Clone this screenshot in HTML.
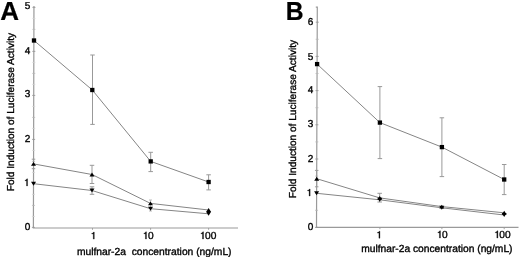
<!DOCTYPE html>
<html><head><meta charset="utf-8"><style>
html,body{margin:0;padding:0;background:#fff;width:520px;height:257px;overflow:hidden}
svg{display:block;will-change:transform}
text{text-rendering:geometricPrecision;font-family:"Liberation Sans",sans-serif;fill:#000;stroke:#000;stroke-width:0.35px}
</style></head><body>
<svg width="520" height="257" viewBox="0 0 520 257">
<path d="M33.95 6L33.40 228.0H238" stroke="#9a9a9a" stroke-width="1.2" fill="none"/>
<path d="M31.90 227.40h3" stroke="#999" stroke-width="0.9"/>
<path d="M32.01 183.40h3" stroke="#999" stroke-width="0.9"/>
<path d="M32.12 139.40h3" stroke="#999" stroke-width="0.9"/>
<path d="M32.23 95.40h3" stroke="#999" stroke-width="0.9"/>
<path d="M32.34 51.40h3" stroke="#999" stroke-width="0.9"/>
<path d="M32.45 7.40h3" stroke="#999" stroke-width="0.9"/>
<path d="M31.93 216.40h3" stroke="#d2d2d2" stroke-width="0.8"/>
<path d="M31.96 205.40h3" stroke="#b8b8b8" stroke-width="0.8"/>
<path d="M31.98 194.40h3" stroke="#d2d2d2" stroke-width="0.8"/>
<path d="M32.04 172.40h3" stroke="#d2d2d2" stroke-width="0.8"/>
<path d="M32.07 161.40h3" stroke="#b8b8b8" stroke-width="0.8"/>
<path d="M32.09 150.40h3" stroke="#d2d2d2" stroke-width="0.8"/>
<path d="M32.15 128.40h3" stroke="#d2d2d2" stroke-width="0.8"/>
<path d="M32.17 117.40h3" stroke="#b8b8b8" stroke-width="0.8"/>
<path d="M32.20 106.40h3" stroke="#d2d2d2" stroke-width="0.8"/>
<path d="M32.26 84.40h3" stroke="#d2d2d2" stroke-width="0.8"/>
<path d="M32.28 73.40h3" stroke="#b8b8b8" stroke-width="0.8"/>
<path d="M32.31 62.40h3" stroke="#d2d2d2" stroke-width="0.8"/>
<path d="M32.36 40.40h3" stroke="#d2d2d2" stroke-width="0.8"/>
<path d="M32.39 29.40h3" stroke="#b8b8b8" stroke-width="0.8"/>
<path d="M32.42 18.40h3" stroke="#d2d2d2" stroke-width="0.8"/>
<text x="24.84" y="9" font-size="10.0" text-anchor="start" font-weight="normal" >5</text>
<text x="24.84" y="54" font-size="10.0" text-anchor="start" font-weight="normal" >4</text>
<text x="24.84" y="97" font-size="10.0" text-anchor="start" font-weight="normal" >3</text>
<text x="24.84" y="142" font-size="10.0" text-anchor="start" font-weight="normal" >2</text>
<path d="M26.54 185.90L27.54 185.90L27.54 178.87L26.84 178.87L26.44 179.60L25.74 180.05L25.04 180.15L25.04 180.80L26.54 180.65Z" fill="#000" stroke="#000" stroke-width="0.3"/>
<text x="24.84" y="230" font-size="10.0" text-anchor="start" font-weight="normal" >0</text>
<path d="M92.50 228.0V229.8" stroke="#999" stroke-width="0.9"/>
<path d="M150.60 228.0V229.8" stroke="#999" stroke-width="0.9"/>
<path d="M208.60 228.0V229.8" stroke="#999" stroke-width="0.9"/>
<path d="M93.27 239.10L94.27 239.10L94.27 232.07L93.57 232.07L93.17 232.80L92.47 233.25L91.77 233.35L91.77 234.00L93.27 233.85Z" fill="#000" stroke="#000" stroke-width="0.3"/>
<path d="M145.44 239.00L146.46 239.00L146.46 231.83L145.74 231.83L145.34 232.57L144.62 233.03L143.91 233.13L143.91 233.80L145.44 233.65Z" fill="#000" stroke="#000" stroke-width="0.3"/>
<text x="147.95" y="239" font-size="10.2" text-anchor="start" font-weight="normal" >0</text>
<path d="M202.50 239.00L203.52 239.00L203.52 231.83L202.81 231.83L202.40 232.57L201.69 233.03L200.97 233.13L200.97 233.80L202.50 233.65Z" fill="#000" stroke="#000" stroke-width="0.3"/>
<text x="205.01" y="239" font-size="10.2" text-anchor="start" font-weight="normal" >00</text>
<text x="76.9" y="254.6" font-size="10.28" text-anchor="start" font-weight="normal" >mulfnar-2a&#160; concentration (ng/mL)</text>
<text transform="translate(14,191.2) rotate(-90)" font-size="10.1">Fold Induction of Luciferase Activity</text>
<text x="0.2" y="19.8" font-size="26" font-weight="bold" style="stroke-width:0.2px">A</text>
<path d="M34.00 40.50L92.30 90.00L150.70 161.40L208.60 182.00" stroke="#858585" stroke-width="1.0" fill="none"/>
<path d="M33.50 163.90L92.00 174.50L150.50 203.40L208.60 210.00" stroke="#858585" stroke-width="1.0" fill="none"/>
<path d="M33.50 183.70L92.00 190.50L150.50 208.70L208.60 213.80" stroke="#858585" stroke-width="1.0" fill="none"/>
<path d="M92.50 55.00V124.40M90.25 55.00H94.75M90.25 124.40H94.75" stroke="#999" stroke-width="1" fill="none"/>
<path d="M150.70 152.30V171.60M148.45 152.30H152.95M148.45 171.60H152.95" stroke="#999" stroke-width="1" fill="none"/>
<path d="M208.60 174.80V189.90M206.35 174.80H210.85M206.35 189.90H210.85" stroke="#999" stroke-width="1" fill="none"/>
<path d="M92.00 165.30V183.50M89.75 165.30H94.25M89.75 183.50H94.25" stroke="#999" stroke-width="1" fill="none"/>
<path d="M33.50 159.20V168.70M31.75 159.20H35.25M31.75 168.70H35.25" stroke="#999" stroke-width="1" fill="none"/>
<path d="M92.00 186.80V194.30M89.75 186.80H94.25M89.75 194.30H94.25" stroke="#999" stroke-width="1" fill="none"/>
<path d="M150.50 200.00V211.00M149.00 200.00H152.00M149.00 211.00H152.00" stroke="#bbb" stroke-width="1" fill="none"/>
<rect x="31.85" y="38.35" width="4.3" height="4.3" fill="#000"/>
<rect x="90.15" y="87.85" width="4.3" height="4.3" fill="#000"/>
<rect x="148.55" y="159.25" width="4.3" height="4.3" fill="#000"/>
<rect x="206.45" y="179.85" width="4.3" height="4.3" fill="#000"/>
<path d="M31.00 165.85L36.00 165.85L33.50 161.95Z" fill="#000"/>
<path d="M89.50 176.45L94.50 176.45L92.00 172.55Z" fill="#000"/>
<path d="M148.00 205.35L153.00 205.35L150.50 201.45Z" fill="#000"/>
<path d="M206.10 211.95L211.10 211.95L208.60 208.05Z" fill="#000"/>
<path d="M31.00 181.75L36.00 181.75L33.50 185.65Z" fill="#000"/>
<path d="M89.50 188.55L94.50 188.55L92.00 192.45Z" fill="#000"/>
<path d="M148.00 206.75L153.00 206.75L150.50 210.65Z" fill="#000"/>
<path d="M206.10 211.85L211.10 211.85L208.60 215.75Z" fill="#000"/>
<path d="M315.80 7.2H317.30L316.50 227.4H518.5" stroke="#9a9a9a" stroke-width="1.2" fill="none"/>
<path d="M315.00 227.40h3" stroke="#999" stroke-width="0.9"/>
<path d="M315.12 193.20h3" stroke="#999" stroke-width="0.9"/>
<path d="M315.25 159.00h3" stroke="#999" stroke-width="0.9"/>
<path d="M315.37 124.80h3" stroke="#999" stroke-width="0.9"/>
<path d="M315.50 90.60h3" stroke="#999" stroke-width="0.9"/>
<path d="M315.62 56.40h3" stroke="#999" stroke-width="0.9"/>
<path d="M315.75 22.20h3" stroke="#999" stroke-width="0.9"/>
<path d="M315.06 210.30h3" stroke="#b8b8b8" stroke-width="0.8"/>
<path d="M315.19 176.10h3" stroke="#b8b8b8" stroke-width="0.8"/>
<path d="M315.31 141.90h3" stroke="#b8b8b8" stroke-width="0.8"/>
<path d="M315.43 107.70h3" stroke="#b8b8b8" stroke-width="0.8"/>
<path d="M315.56 73.50h3" stroke="#b8b8b8" stroke-width="0.8"/>
<path d="M315.68 39.30h3" stroke="#b8b8b8" stroke-width="0.8"/>
<text x="307.74" y="25" font-size="10.0" text-anchor="start" font-weight="normal" >6</text>
<text x="307.74" y="60" font-size="10.0" text-anchor="start" font-weight="normal" >5</text>
<text x="307.74" y="93" font-size="10.0" text-anchor="start" font-weight="normal" >4</text>
<text x="307.74" y="127" font-size="10.0" text-anchor="start" font-weight="normal" >3</text>
<text x="307.74" y="162" font-size="10.0" text-anchor="start" font-weight="normal" >2</text>
<path d="M309.14 196.00L310.14 196.00L310.14 188.97L309.44 188.97L309.04 189.70L308.34 190.15L307.64 190.25L307.64 190.90L309.14 190.75Z" fill="#000" stroke="#000" stroke-width="0.3"/>
<text x="307.74" y="230" font-size="10.0" text-anchor="start" font-weight="normal" >0</text>
<path d="M379.90 227.4V229.20000000000002" stroke="#999" stroke-width="0.9"/>
<path d="M441.90 227.4V229.20000000000002" stroke="#999" stroke-width="0.9"/>
<path d="M504.20 227.4V229.20000000000002" stroke="#999" stroke-width="0.9"/>
<path d="M378.92 238.20L379.92 238.20L379.92 231.17L379.22 231.17L378.82 231.90L378.12 232.35L377.42 232.45L377.42 233.10L378.92 232.95Z" fill="#000" stroke="#000" stroke-width="0.3"/>
<path d="M439.44 238.00L440.46 238.00L440.46 230.83L439.74 230.83L439.34 231.57L438.62 232.03L437.91 232.13L437.91 232.80L439.44 232.65Z" fill="#000" stroke="#000" stroke-width="0.3"/>
<text x="441.95" y="238" font-size="10.2" text-anchor="start" font-weight="normal" >0</text>
<path d="M496.85 238.00L497.87 238.00L497.87 230.83L497.16 230.83L496.75 231.57L496.04 232.03L495.32 232.13L495.32 232.80L496.85 232.65Z" fill="#000" stroke="#000" stroke-width="0.3"/>
<text x="499.36" y="238" font-size="10.2" text-anchor="start" font-weight="normal" >00</text>
<text x="361.2" y="251.8" font-size="10.24" text-anchor="start" font-weight="normal" >mulfnar-2a concentration (ng/mL)</text>
<text transform="translate(296.3,198.2) rotate(-90)" font-size="10.1">Fold Induction of Luciferase Activity</text>
<text transform="translate(285.7,19.8) scale(0.95,1)" font-size="26" font-weight="bold" style="stroke-width:0.2px">B</text>
<path d="M317.10 64.10L379.90 122.60L441.90 147.10L504.20 179.50" stroke="#858585" stroke-width="1.0" fill="none"/>
<path d="M316.70 178.70L379.70 197.90L441.80 206.60L504.20 212.80" stroke="#858585" stroke-width="1.0" fill="none"/>
<path d="M316.60 193.30L379.70 199.80L441.80 207.80L504.20 215.00" stroke="#858585" stroke-width="1.0" fill="none"/>
<path d="M379.90 86.60V158.60M377.65 86.60H382.15M377.65 158.60H382.15" stroke="#999" stroke-width="1" fill="none"/>
<path d="M441.90 117.80V176.60M439.65 117.80H444.15M439.65 176.60H444.15" stroke="#999" stroke-width="1" fill="none"/>
<path d="M504.20 164.50V194.60M501.95 164.50H506.45M501.95 194.60H506.45" stroke="#999" stroke-width="1" fill="none"/>
<path d="M316.70 170.40V186.80M314.95 170.40H318.45M314.95 186.80H318.45" stroke="#999" stroke-width="1" fill="none"/>
<path d="M379.70 193.30V202.00M377.45 193.30H381.95M377.45 202.00H381.95" stroke="#999" stroke-width="1" fill="none"/>
<rect x="314.95" y="61.95" width="4.3" height="4.3" fill="#000"/>
<rect x="377.75" y="120.45" width="4.3" height="4.3" fill="#000"/>
<rect x="439.75" y="144.95" width="4.3" height="4.3" fill="#000"/>
<rect x="502.05" y="177.35" width="4.3" height="4.3" fill="#000"/>
<path d="M314.20 180.65L319.20 180.65L316.70 176.75Z" fill="#000"/>
<path d="M377.20 199.85L382.20 199.85L379.70 195.95Z" fill="#000"/>
<path d="M439.30 208.55L444.30 208.55L441.80 204.65Z" fill="#000"/>
<path d="M501.70 214.75L506.70 214.75L504.20 210.85Z" fill="#000"/>
<path d="M314.10 191.35L319.10 191.35L316.60 195.25Z" fill="#000"/>
<path d="M377.20 197.85L382.20 197.85L379.70 201.75Z" fill="#000"/>
<path d="M439.30 205.85L444.30 205.85L441.80 209.75Z" fill="#000"/>
<path d="M501.70 213.05L506.70 213.05L504.20 216.95Z" fill="#000"/>
</svg>
</body></html>
